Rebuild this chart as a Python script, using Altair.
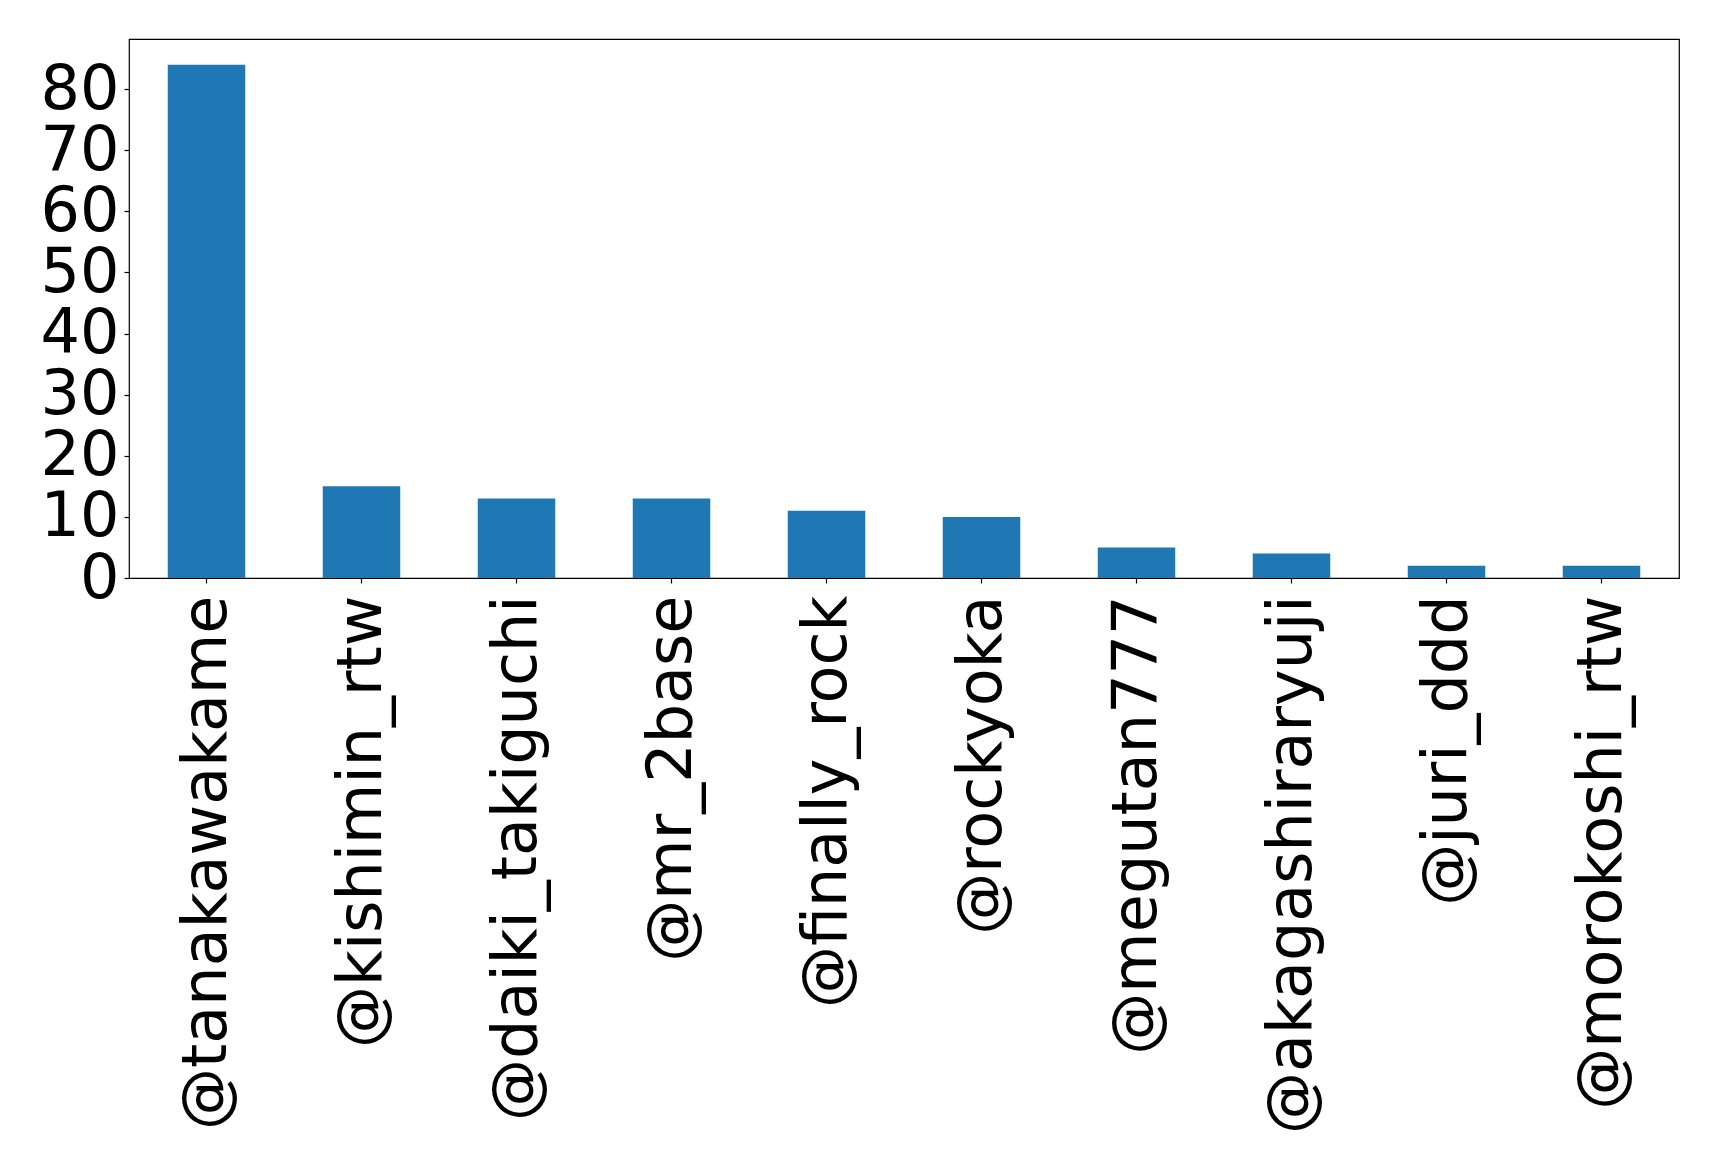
import altair as alt
import pandas as pd

# accounts and mention counts
accounts = [
    "@tanakawakame", "@kishimin_rtw", "@daiki_takiguchi", "@mr_2base",
    "@finally_rock", "@rockyoka", "@megutan777", "@akagashiraryuji",
    "@juri_ddd", "@morokoshi_rtw",
]
counts = [84, 15, 13, 13, 11, 10, 5, 4, 2, 2]
y_ticks = [0, 10, 20, 30, 40, 50, 60, 70, 80]

source = pd.DataFrame({"account": accounts, "count": counts})

bars = alt.Chart(source).mark_bar(color="#1f77b4").encode(
    alt.X("account:N", sort=accounts, title=None,
          scale=alt.Scale(paddingInner=0.5, paddingOuter=0.25),
          axis=alt.Axis(labelAngle=-90, labelFontSize=62, labelFont="DejaVu Sans",
                        labelColor="black", labelPadding=12, labelLimit=1000,
                        labelOverlap=False, tickSize=5, tickColor="black",
                        tickWidth=1.2, domain=False)),
    alt.Y("count:Q", title=None,
          scale=alt.Scale(domain=[0, 88.2], nice=False),
          axis=alt.Axis(values=y_ticks, labelFontSize=62, labelFont="DejaVu Sans",
                        labelColor="black", labelPadding=5, labelOverlap=False,
                        labelBound=False, labelFlush=False, tickSize=5,
                        tickColor="black", tickWidth=1.2, grid=False, domain=False)),
).properties(
    width=1550,
    height=539,
    autosize=alt.AutoSizeParams(type="none"),
    padding={"left": 121, "top": 31, "right": 30, "bottom": 580},
).configure_view(
    stroke="black",
    strokeWidth=1.2,
)

bars.save("out.html", embed_options={"renderer": "svg", "actions": False})
